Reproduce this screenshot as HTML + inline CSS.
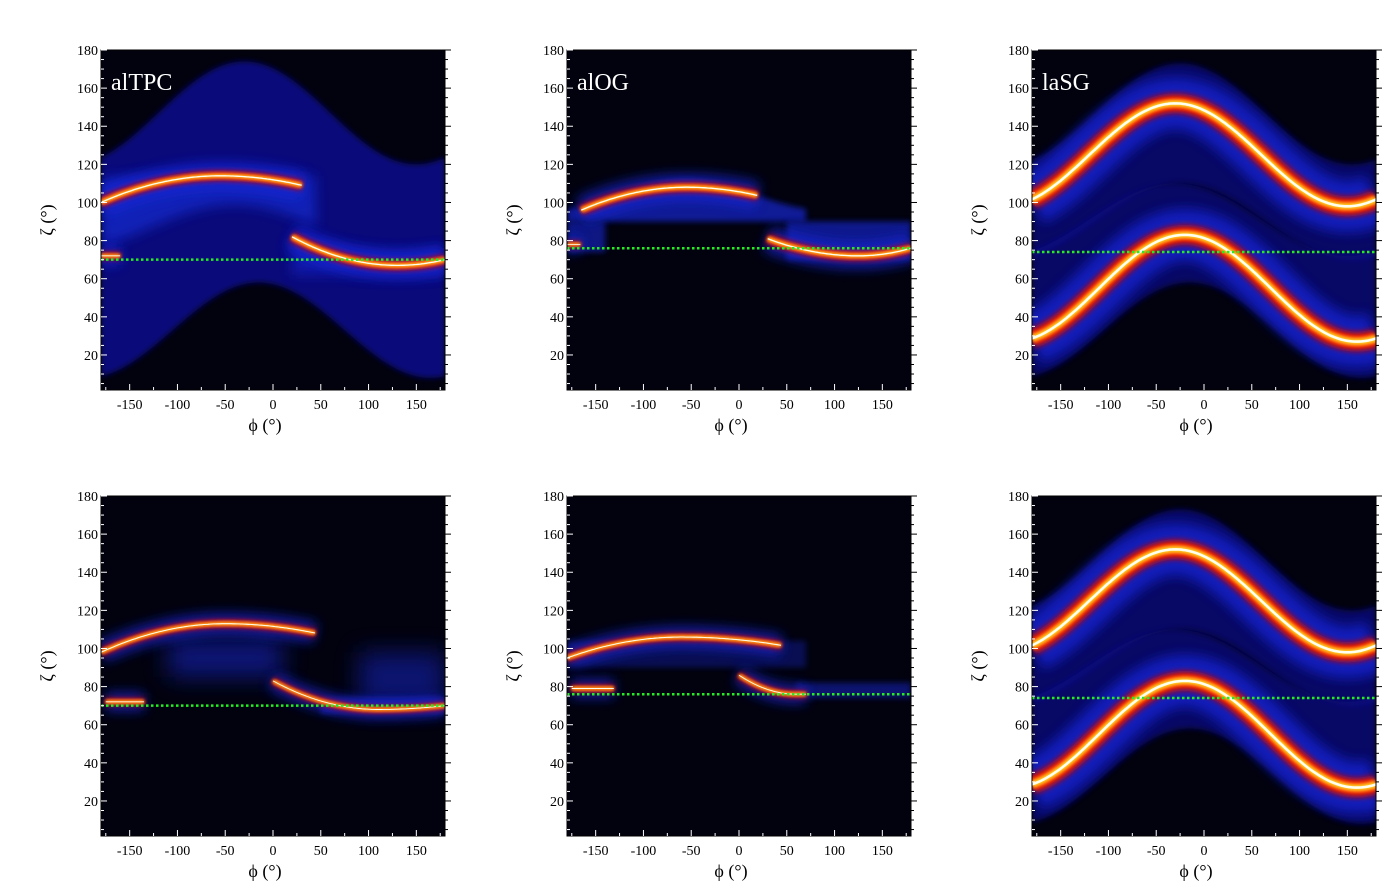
<!DOCTYPE html>
<html><head><meta charset="utf-8">
<style>
body{margin:0;background:#fff;}
svg{display:block;font-family:"Liberation Serif","DejaVu Serif",serif;}
</style></head>
<body>
<svg id="s" width="1396" height="892" xmlns="http://www.w3.org/2000/svg">
<defs>
<filter id="b1" filterUnits="userSpaceOnUse" x="0" y="0" width="1396" height="892"><feGaussianBlur stdDeviation="6"/></filter>
<filter id="b2" filterUnits="userSpaceOnUse" x="0" y="0" width="1396" height="892"><feGaussianBlur stdDeviation="3"/></filter>
<filter id="b3" filterUnits="userSpaceOnUse" x="0" y="0" width="1396" height="892"><feGaussianBlur stdDeviation="1.5"/></filter>
<filter id="b4" filterUnits="userSpaceOnUse" x="0" y="0" width="1396" height="892"><feGaussianBlur stdDeviation="12"/></filter>
</defs>
</svg>
<script>
const S=document.getElementById('s');const NS='http://www.w3.org/2000/svg';
function el(t,a,p){const e=document.createElementNS(NS,t);for(const k in a)e.setAttribute(k,a[k]);(p||S).appendChild(e);return e;}
const W=344,PX=W/360,PY=1.906;
function panel(ox,oy,sp){
 const X=f=>ox+(f+180)*PX, Y=z=>oy+(180-z)*PY;
 const H=340;
 const cid='c'+ox+'_'+oy;
 const cp=el('clipPath',{id:cid});el('rect',{x:ox,y:oy,width:W,height:H},cp);
 el('rect',{x:ox,y:oy,width:W,height:H,fill:'#02020e'});
 const g=el('g',{'clip-path':'url(#'+cid+')'});
 function line(f,a,b){let d='';for(let p=a;p<=b+0.01;p+=2){d+=(d?'L':'M')+X(p).toFixed(1)+','+Y(f(p)).toFixed(1);}return d;}
 function area(t,bt,a,b){let d='';for(let p=a;p<=b+0.01;p+=2)d+=(d?'L':'M')+X(p).toFixed(1)+','+Y(t(p)).toFixed(1);for(let p=b;p>=a-0.01;p-=2)d+='L'+X(p).toFixed(1)+','+Y(bt(p)).toFixed(1);return d+'Z';}
 (sp.areas||[]).forEach(A=>el('path',{d:area(A[0],A[1],A[2],A[3]),fill:A[4],opacity:A[5]||1,filter:A[6]?'url(#'+A[6]+')':''},g));
 (sp.curves||[]).forEach(C=>{const d=line(C[0],C[1],C[2]);const w=C[3]||1;
  el('path',{d,fill:'none',stroke:'#1828e0',"stroke-width":26*w,opacity:.7,filter:'url(#b1)'},g);
  el('path',{d,fill:'none',stroke:'#c01010',"stroke-width":10*w,filter:'url(#b2)'},g);
  el('path',{d,fill:'none',stroke:'#ff3000',"stroke-width":6*w,filter:'url(#b3)'},g);
  el('path',{d,fill:'none',stroke:'#ffd020',"stroke-width":3.5*w,filter:'url(#b3)'},g);
  el('path',{d,fill:'none',stroke:'#fffff0',"stroke-width":1.3*w},g);});
 el('line',{x1:ox,x2:ox+W,y1:Y(sp.g),y2:Y(sp.g),stroke:'#22ee22',"stroke-width":2.5,"stroke-dasharray":"2.5 2.5"});
 el('rect',{x:ox,y:oy,width:W,height:H,fill:'none',stroke:'#000',"stroke-width":1});
 for(let z=5;z<=180;z+=5){const y=Y(z);const L=z%20==0?6:3;
  el('line',{x1:ox+W,x2:ox+W+L,y1:y,y2:y,stroke:'#000'});
  el('line',{x1:ox,x2:ox+L,y1:y,y2:y,stroke:'#fff'});
  if(z%20==0&&z<180||z==180){const t=el('text',{x:ox-3,y:y+5,"text-anchor":"end","font-size":14});t.textContent=z;}}
 for(let f=-175;f<=175;f+=25){const x=X(f);const L=f%50==0?6:3;
  el('line',{x1:x,x2:x,y1:oy+H,y2:oy+H-L,stroke:'#fff'});
  if(f%50==0){const t=el('text',{x:x,y:oy+H+19,"text-anchor":"middle","font-size":14});t.textContent=f;}}
 const t=el('text',{x:ox+W/2-8,y:oy+H+41,"text-anchor":"middle","font-size":18});t.textContent='ϕ (°)';
 const t2=el('text',{x:0,y:0,"text-anchor":"middle","font-size":18,transform:`translate(${ox-48},${oy+H/2}) rotate(-90)`});t2.textContent='ζ (°)';
 if(sp.title){const t3=el('text',{x:ox+10,y:oy+40,fill:'#fff',"font-size":24});t3.textContent=sp.title;}
}
const cs=(p,c)=>(1+Math.cos((p-c)*Math.PI/180))/2;
const p1={title:'alTPC',g:70,areas:[
 [p=>120+54*cs(p,-30),p=>8+50*cs(p,-15),-180,180,'#0a10a0',.75,'b2'],
 [p=>112+4*cs(p,-50),p=>74+25*cs(p,-40),-180,45,'#1830e0',.6,'b1'],
 [p=>85-10*cs(p,130),p=>62,20,180,'#1428d0',.55,'b1']],
 curves:[[p=>p<-55?114-14*((p+55)/125)**2:114-5*((p+55)/85)**2,-180,30],
  [p=>p<130?67+15*((p-130)/110)**2:67+3*((p-130)/50)**2,20,180],
  [p=>72,-180,-160,.7]]};
const p2={title:'alOG',g:76,areas:[
 [p=>95+17*cs(p,-55)**1.5,p=>90,-180,70,'#1428d0',.7,'b2'],
 [p=>90,p=>70,50,180,'#1428d0',.65,'b2'],
 [p=>90,p=>74,-180,-140,'#1428d0',.6,'b2']],
 curves:[[p=>p<-55?108-12*((p+55)/110)**2:108-5*((p+55)/80)**2,-165,20],
  [p=>p<125?72+9*((p-125)/95)**2:72+4*((p-125)/55)**2,30,180],
  [p=>78,-180,-165,.6]]};
const sgUp=p=>125+27*Math.cos((p+30)*Math.PI/180), sgLo=p=>55+28*Math.cos((p+20)*Math.PI/180);
const p3={title:'laSG',g:74,areas:[
 [p=>120+53*cs(p,-25),p=>70+40*cs(p,-25),-180,180,'#0a10a0',.6,'b2'],
 [p=>72+38*cs(p,-30),p=>8+50*cs(p,-15),-180,180,'#0a10a0',.6,'b2']],
 curves:[[sgUp,-180,180,2],[sgLo,-180,180,2]]};
const p4={g:70,areas:[
 [p=>105,p=>85,-110,10,'#1428d0',.55,'b4'],
 [p=>98,p=>70,90,180,'#1428d0',.5,'b4'],
 [p=>74,p=>66,50,180,'#1428d0',.6,'b2']],
 curves:[[p=>p<-50?113-15*((p+50)/130)**2:113-5*((p+50)/95)**2,-180,45,.8],
  [p=>p<110?68+15*((p-110)/110)**2:68+2*((p-110)/70)**2,0,180,.7],
  [p=>72,-175,-135,.7]]};
const p5={g:76,areas:[
 [p=>104,p=>90,-180,70,'#1428d0',.35,'b2'],
 [p=>82,p=>74,60,180,'#1428d0',.5,'b2']],
 curves:[[p=>p<-60?106-11*((p+60)/120)**2:106-4*((p+60)/100)**2,-180,45,.8],
  [p=>p<60?76+10*((p-60)/60)**2:76,0,70,.7],
  [p=>79,-175,-130,.7]]};
panel(101,50,p1);panel(567,50,p2);panel(1032,50,p3);
panel(101,496,p4);panel(567,496,p5);panel(1032,496,{g:74,areas:p3.areas,curves:p3.curves});
</script>
</body></html>
